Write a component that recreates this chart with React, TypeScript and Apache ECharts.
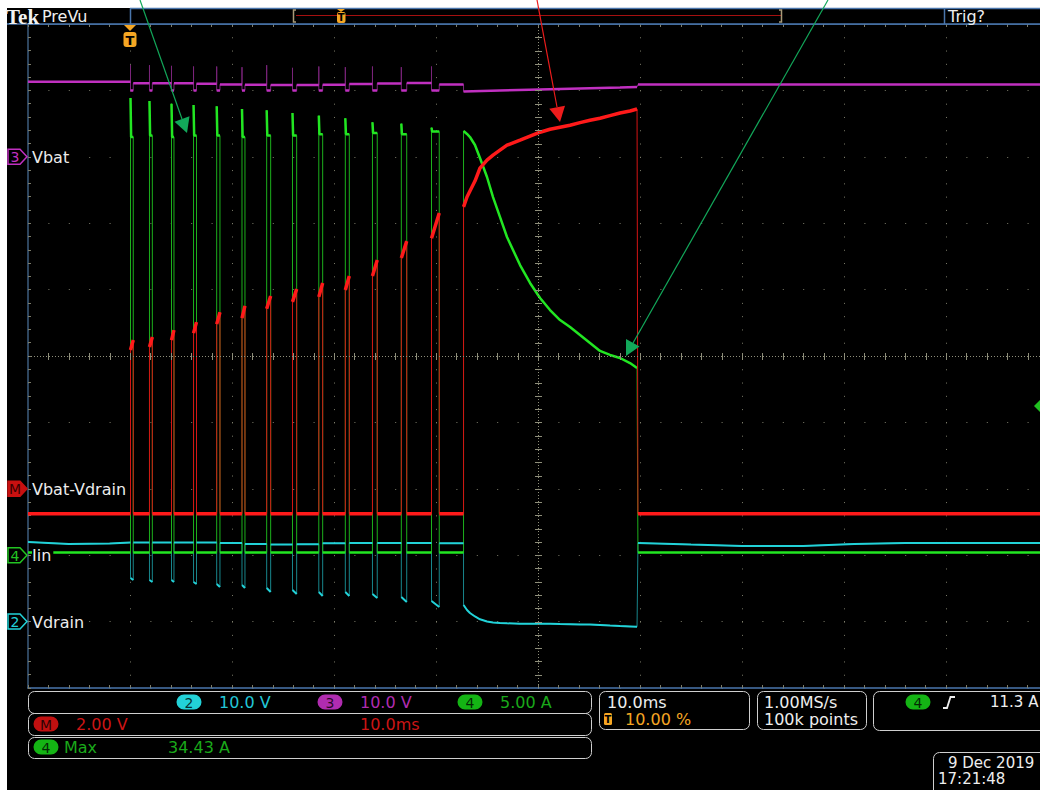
import React, { useEffect, useRef } from "react";
import * as echarts from "echarts";

// ===== Timebase (ms, relative to trigger) =====
const timeMinMs = -10;
const timeMaxMs = 90;
const timeDivMs = 10;

// ===== Channels: index 0 Vdrain (ch2), 1 Vbat (ch3), 2 Iin (ch4), 3 Math =====
const channelIds = ["2", "3", "4", "M"];
const channelNames = ["Vdrain", "Vbat", "Iin", "Vbat-Vdrain"];
const channelScale = [10, 10, 5, 2]; // units per division
const channelOffsetDiv = [-4, 3, -3, -2]; // ground marker position in divisions

// ===== Short pulses =====
const pulseStartMs = [0.05, 1.91, 4.07, 6.23, 8.5, 10.98, 13.4, 15.93, 18.51, 21.11, 23.77, 26.6, 29.56];
const pulseEndMs = [0.32, 2.19, 4.31, 6.52, 8.82, 11.27, 13.79, 16.34, 18.89, 21.5, 24.24, 27.13, 30.32];
const spikeSettleMs = 0.06;

// Iin (A)
const iinIdleA = 0.2;
const iinSpikeA = [34.43, 34.2, 34.0, 33.9, 33.8, 33.6, 33.5, 33.3, 33.1, 32.9, 32.6, 32.5, 32.2];
const iinPlateauA = [31.5, 31.6, 31.5, 31.6, 31.6, 31.5, 31.6, 31.6, 31.7, 31.7, 31.8, 31.7, 31.9];

// Vdrain (V)
const vdrainPreMs = [-10, -6, -2];
const vdrainPreV = [12.0, 11.7, 11.75];
const vdrainIdleV = [11.9, 11.9, 11.9, 11.9, 11.9, 11.85, 11.7, 11.6, 11.65, 11.8, 11.85, 11.85, 11.85, 11.8];
const vdrainLowStartV = [6.57, 6.26, 6.26, 5.96, 5.66, 5.51, 5.06, 4.76, 4.46, 4.46, 4.16, 3.7, 3.1];
const vdrainLowEndV = [6.26, 5.96, 5.96, 5.66, 5.21, 5.06, 4.46, 4.16, 3.86, 3.86, 3.55, 2.95, 2.2];
const vdrainPostMs = [49.8, 55, 60, 66, 71, 76, 90];
const vdrainPostV = [11.85, 11.6, 11.4, 11.4, 11.7, 11.85, 11.85];

// Vbat (V)
const vbatIdleV = [11.3, 11.07, 11.07, 11.07, 11.0, 10.9, 10.85, 10.8, 10.8, 10.85, 10.95, 11.05, 11.1, 10.88];
const vbatKickV = [13.8, 13.8, 13.7, 13.6, 13.6, 13.5, 13.8, 13.4, 13.6, 13.5, 13.6, 13.5, 13.6];
const vbatSagV = 10.0;
const vbatPostV = 10.89;

// Math Vbat-Vdrain (V)
const mathIdleV = -0.75;
const mathHighStartV = [4.18, 4.27, 4.48, 4.69, 4.96, 5.14, 5.42, 5.63, 5.78, 5.99, 6.41, 6.95, 7.55];
const mathHighEndV = [4.48, 4.57, 4.78, 5.02, 5.32, 5.51, 5.81, 6.02, 6.2, 6.41, 6.89, 7.46, 8.31];

// ===== Long pulse =====
const longPulseMs = [32.7, 33.04, 33.33, 33.82, 34.31, 35.0, 35.59, 36.27, 36.96, 38.24, 39.22, 40.2, 41.18, 42.16, 43.14, 44.12, 45.1, 46.08, 47.06, 48.04, 49.02, 49.71];
const longPulseEndMs = 49.8;
const longIinA = [31.94, 31.72, 31.49, 30.89, 29.91, 28.48, 26.97, 25.47, 23.96, 21.85, 20.5, 19.37, 18.46, 17.71, 17.18, 16.58, 15.98, 15.38, 15.08, 14.85, 14.47, 14.1];
const longMathV = [8.49, 8.79, 8.97, 9.27, 9.66, 9.9, 10.05, 10.2, 10.35, 10.5, 10.62, 10.74, 10.83, 10.89, 10.95, 11.03, 11.1, 11.16, 11.24, 11.32, 11.38, 11.44];
const longVdrainV = [2.5, 1.75, 1.3, 0.77, 0.35, 0.02, -0.14, -0.21, -0.26, -0.32, -0.32, -0.32, -0.32, -0.36, -0.39, -0.42, -0.45, -0.51, -0.59, -0.66, -0.72, -0.77];
const longVbatMs = [32.7, 36.27, 40.2, 44.12, 48.04, 49.71];
const longVbatV = [9.83, 9.98, 10.14, 10.29, 10.44, 10.51];

// ===== Readouts =====
const readoutScales = ["10.0 V", "10.0 V", "5.00 A"];
const mathReadout = ["2.00 V", "10.0ms"];
const measureReadout = ["Max", "34.43 A"];
const timebaseReadout = ["10.0ms", "10.00 %"];
const acqReadout = ["1.00MS/s", "100k points"];
const triggerReadout = "11.3 A";
const dateReadout = ["9 Dec 2019", "17:21:48"];

// ===== Layout =====
const CW = 1060, CH = 790; // container (wider than the viewport: graticule runs off the right edge)
const GL = 28, GT = 24, GW = 1020, GH = 664;
const DW = GW / 10, DH = GH / 10;
const CX = GL + DW * 5, CY = GT + DH * 5;
const FONT = '"DejaVu Sans", sans-serif';
const COL = {
  cyan: "#22d2d8", cyanDim: "#18868c", cyanTxt: "#22c6d6",
  mag: "#c030c0", magDim: "#7a247a", magTxt: "#b02cb0",
  green: "#22e622", greenDim: "#1cb01c", greenTxt: "#1aa81a",
  red: "#ff1a1a", redDim: "#d41414", redTxt: "#cc1515",
  grid: "#7c7c6a", orange: "#f5a623", border: "#4a76ac",
};

type P = [number, number];
const GAP: any = ["-", "-"];
function toSeries(segs: P[][]) {
  const full: P[] = [];
  const bright: any[] = [];
  segs.forEach((s, i) => {
    full.push(...s);
    if (i) bright.push(GAP);
    bright.push(...s);
  });
  return { full, bright };
}
const nextStart = (i: number) => (i + 1 < pulseStartMs.length ? pulseStartMs[i + 1] : longPulseMs[0]);

function iinSegs(): P[][] {
  const s: P[][] = [[[timeMinMs, iinIdleA], [pulseStartMs[0], iinIdleA]]];
  pulseStartMs.forEach((t, i) => {
    s.push([[t, iinSpikeA[i]], [t + spikeSettleMs, iinPlateauA[i]], [pulseEndMs[i], iinPlateauA[i]]]);
    s.push([[pulseEndMs[i], iinIdleA], [nextStart(i), iinIdleA]]);
  });
  s.push(longPulseMs.map((t, k) => [t, longIinA[k]] as P));
  s.push([[longPulseEndMs, iinIdleA], [timeMaxMs, iinIdleA]]);
  return s;
}
function vdrainSegs(): P[][] {
  const s: P[][] = [[...vdrainPreMs.map((t, k) => [t, vdrainPreV[k]] as P), [pulseStartMs[0], vdrainIdleV[0]]]];
  pulseStartMs.forEach((t, i) => {
    s.push([[t, vdrainLowStartV[i]], [pulseEndMs[i], vdrainLowEndV[i]]]);
    s.push([[pulseEndMs[i], vdrainIdleV[i + 1]], [nextStart(i), vdrainIdleV[i + 1]]]);
  });
  s.push(longPulseMs.map((t, k) => [t, longVdrainV[k]] as P));
  s.push(vdrainPostMs.map((t, k) => [t, vdrainPostV[k]] as P));
  return s;
}
function vbatSegs(): P[][] {
  const s: P[][] = [[[timeMinMs, vbatIdleV[0]], [pulseStartMs[0], vbatIdleV[0]]]];
  pulseStartMs.forEach((t, i) => {
    s.push([[t, vbatKickV[i]]]);
    s.push([[t, vbatSagV], [pulseEndMs[i], vbatSagV]]);
    s.push([[pulseEndMs[i], vbatIdleV[i + 1]], [nextStart(i), vbatIdleV[i + 1]]]);
  });
  s.push(longVbatMs.map((t, k) => [t, longVbatV[k]] as P));
  s.push([[longPulseEndMs, vbatPostV], [timeMaxMs, vbatPostV]]);
  return s;
}
function mathSegs(): P[][] {
  const s: P[][] = [[[timeMinMs, mathIdleV], [pulseStartMs[0], mathIdleV]]];
  pulseStartMs.forEach((t, i) => {
    s.push([[t, mathHighStartV[i]], [pulseEndMs[i], mathHighEndV[i]]]);
    s.push([[pulseEndMs[i], mathIdleV], [nextStart(i), mathIdleV]]);
  });
  s.push(longPulseMs.map((t, k) => [t, longMathV[k]] as P));
  s.push([[longPulseEndMs, mathIdleV], [timeMaxMs, mathIdleV]]);
  return s;
}

function lineSeries(name: string, yAxisIndex: number, data: any[], color: string, width: number, z: number) {
  return {
    name, type: "line", xAxisIndex: 0, yAxisIndex, data, showSymbol: false, symbol: "none",
    lineStyle: { color, width }, z, silent: true, connectNulls: false, clip: true, animation: false,
  };
}

function txt(text: string, x: number, y: number, fill: string, size = 16, extra: any = {}) {
  return { type: "text", z: 100, x, y, style: { text, fill, fontSize: size, fontFamily: FONT, align: "left", verticalAlign: "middle", ...extra } };
}
function badge(label: string, cx: number, cy: number, fill: string) {
  return [
    { type: "rect", z: 100, shape: { x: cx - 12.5, y: cy - 7.5, width: 25, height: 15, r: 7.5 }, style: { fill } },
    { type: "text", z: 101, x: cx, y: cy + 0.5, style: { text: label, fill: "rgba(0,0,0,0.8)", fontSize: 14, fontFamily: FONT, align: "center", verticalAlign: "middle" } },
  ];
}
function chMarker(label: string, cy: number, color: string, filled: boolean) {
  return [
    { type: "polygon", z: 100, shape: { points: [[8, cy - 7.5], [20, cy - 7.5], [27, cy], [20, cy + 7.5], [8, cy + 7.5]] }, style: { fill: filled ? color : "#000", stroke: color, lineWidth: 1.5 } },
    { type: "text", z: 101, x: 15, y: cy + 0.5, style: { text: label, fill: filled ? "#3a0000" : color, fontSize: 14, fontFamily: FONT, align: "center", verticalAlign: "middle" } },
  ];
}
function box(x: number, y: number, w: number, h: number) {
  return { type: "rect", z: 99, shape: { x: x + 0.5, y: y + 0.5, width: w, height: h, r: 6 }, style: { fill: "none", stroke: "#cfcfcf", lineWidth: 1 } };
}
function arrow(x0: number, y0: number, bx: number, by: number, tip: P, b1: P, b2: P, color: string) {
  return [
    { type: "line", z: 120, shape: { x1: x0, y1: y0, x2: bx, y2: by }, style: { stroke: color, lineWidth: 1.2 } },
    { type: "polygon", z: 120, shape: { points: [tip, b1, b2] }, style: { fill: color } },
  ];
}

function buildOption() {
  const iin = toSeries(iinSegs());
  const vd = toSeries(vdrainSegs());
  const vb = toSeries(vbatSegs());
  const m = toSeries(mathSegs());

  const yAxes = channelScale.map((sc, i) => ({
    type: "value", min: (-5 - channelOffsetDiv[i]) * sc, max: (5 - channelOffsetDiv[i]) * sc, interval: sc,
    show: i === 0, position: "left",
    axisLine: { show: true, onZero: false, lineStyle: { color: "#3d5c7e", width: 1.5 } },
    axisTick: { show: true, inside: true, length: 3, lineStyle: { color: COL.grid } },
    minorTick: { show: true, splitNumber: 5, length: 3, lineStyle: { color: COL.grid } },
    axisLabel: { show: false },
    splitLine: { show: i === 0, lineStyle: { color: COL.grid, width: 1, type: [1, DW / 5 - 1] } },
  }));
  const xAxisBase = {
    type: "value", min: timeMinMs, max: timeMaxMs, interval: timeDivMs,
    axisLine: { show: true, onZero: false, lineStyle: { color: COL.border, width: 1.5 } },
    axisTick: { show: true, inside: true, length: 3, lineStyle: { color: COL.grid } },
    minorTick: { show: true, splitNumber: 5, length: 3, lineStyle: { color: COL.grid } },
    axisLabel: { show: false },
  };

  const g: any[] = [];
  // white page margins
  g.push({ type: "rect", z: 90, shape: { x: 0, y: 0, width: CW, height: 8 }, style: { fill: "#fff" } });
  g.push({ type: "rect", z: 90, shape: { x: 0, y: 0, width: 7, height: CH }, style: { fill: "#fff" } });
  // center crosshair
  g.push({ type: "line", z: 5, shape: { x1: CX + 0.5, y1: GT, x2: CX + 0.5, y2: GT + GH }, style: { stroke: "#8e8e7a", lineWidth: 1, lineDash: [1, 2] } });
  g.push({ type: "line", z: 5, shape: { x1: GL, y1: CY + 0.5, x2: GL + GW, y2: CY + 0.5 }, style: { stroke: "#8e8e7a", lineWidth: 1, lineDash: [1, 2] } });
  for (let k = 1; k < 50; k++) {
    const y = Math.round(GT + (k * DH) / 5) + 0.5;
    g.push({ type: "line", z: 5, shape: { x1: CX - 3, y1: y, x2: CX + 4, y2: y }, style: { stroke: "#8e8e7a", lineWidth: 1 } });
    const x = Math.round(GL + (k * DW) / 5) + 0.5;
    g.push({ type: "line", z: 5, shape: { x1: x, y1: CY - 3, x2: x, y2: CY + 4 }, style: { stroke: "#8e8e7a", lineWidth: 1 } });
  }
  // top bar
  g.push({ type: "rect", z: 95, shape: { x: 7, y: 8, width: CW - 7, height: 16 }, style: { fill: "#000" } });
  g.push({ type: "line", z: 96, shape: { x1: 130, y1: 8.5, x2: CW, y2: 8.5 }, style: { stroke: COL.border, lineWidth: 1.5 } });
  g.push({ type: "line", z: 96, shape: { x1: 130.5, y1: 8, x2: 130.5, y2: 24 }, style: { stroke: COL.border, lineWidth: 1.5 } });
  g.push({ type: "line", z: 96, shape: { x1: 944.5, y1: 8, x2: 944.5, y2: 24 }, style: { stroke: COL.border, lineWidth: 1.5 } });
  g.push({ type: "line", z: 96, shape: { x1: 7, y1: 24, x2: CW, y2: 24 }, style: { stroke: COL.border, lineWidth: 1.5 } });
  g.push({ type: "line", z: 96, shape: { x1: 296, y1: 15.5, x2: 781, y2: 15.5 }, style: { stroke: "#a51010", lineWidth: 1 } });
  g.push({ type: "polyline", z: 96, shape: { points: [[296, 10], [293.5, 10], [293.5, 22], [296, 22]] }, style: { stroke: "#a89a78", lineWidth: 1.5, fill: "none" } });
  g.push({ type: "polyline", z: 96, shape: { points: [[779, 10], [781.5, 10], [781.5, 22], [779, 22]] }, style: { stroke: "#a89a78", lineWidth: 1.5, fill: "none" } });
  g.push({ type: "polygon", z: 96, shape: { points: [[337, 9], [345, 9], [341, 12]] }, style: { fill: COL.orange } });
  g.push({ type: "rect", z: 96, shape: { x: 337, y: 12, width: 8.5, height: 11, r: 2 }, style: { fill: COL.orange } });
  g.push({ type: "text", z: 97, x: 341.2, y: 17.5, style: { text: "T", fill: "#000", fontSize: 10, fontWeight: "bold", fontFamily: FONT, align: "center", verticalAlign: "middle" } });
  g.push({ type: "text", z: 97, x: 6, y: 16.5, style: { text: "Tek", fill: "#f2f2f2", fontSize: 21, fontWeight: "bold", fontFamily: '"Liberation Serif", serif', align: "left", verticalAlign: "middle" } });
  g.push({ ...txt("PreVu", 42, 16, "#eeeeee"), z: 97 });
  g.push({ ...txt("Trig?", 948, 16, "#eeeeee"), z: 97 });
  // trigger position marker
  g.push({ type: "polygon", z: 100, shape: { points: [[124, 25], [136, 25], [130, 31]] }, style: { fill: COL.orange } });
  g.push({ type: "rect", z: 100, shape: { x: 123.5, y: 32, width: 13, height: 15, r: 3 }, style: { fill: COL.orange } });
  g.push({ type: "text", z: 101, x: 130, y: 40, style: { text: "T", fill: "#000", fontSize: 13, fontWeight: "bold", fontFamily: FONT, align: "center", verticalAlign: "middle" } });
  // trigger level marker
  g.push({ type: "polygon", z: 100, shape: { points: [[1034, 406], [1041, 399], [1041, 413]] }, style: { fill: "#20c020" } });
  // channel markers & labels
  const chColors = [COL.cyan, COL.mag, "#22c422", "#c81010"];
  channelIds.forEach((id, i) => {
    const cy = CY - channelOffsetDiv[i] * DH;
    g.push(...chMarker(id, cy, chColors[i], id === "M"));
    g.push(txt(channelNames[i], 32, cy + 0.5, "#ececec", 16, { backgroundColor: "#000", padding: [0, 2, 0, 0] }));
  });
  // bottom readouts
  g.push(box(28, 691, 563, 22), box(28, 713, 563, 22), box(28, 737, 563, 21));
  g.push(box(599, 691, 150, 38), box(757, 691, 109, 38), box(873, 691, 180, 39), box(933, 752, 120, 45));
  g.push(...badge("2", 189, 702, COL.cyan), txt(readoutScales[0], 219, 702, COL.cyanTxt));
  g.push(...badge("3", 330, 702, "#b02cb0"), txt(readoutScales[1], 360, 702, COL.magTxt));
  g.push(...badge("4", 470, 702, "#14b414"), txt(readoutScales[2], 500, 702, COL.greenTxt));
  g.push(...badge("M", 46, 724, "#c01010"), txt(mathReadout[0], 76, 724, COL.redTxt), txt(mathReadout[1], 360, 724, COL.redTxt));
  g.push(...badge("4", 46, 747, "#14b414"), txt(measureReadout[0], 64, 747, COL.greenTxt), txt(measureReadout[1], 168, 747, COL.greenTxt));
  g.push(txt(timebaseReadout[0], 607, 702, "#eeeeee"));
  g.push({ type: "rect", z: 100, shape: { x: 604, y: 713, width: 8, height: 12, r: 1.5 }, style: { fill: COL.orange } });
  g.push({ type: "text", z: 101, x: 608, y: 719.5, style: { text: "T", fill: "#000", fontSize: 10, fontWeight: "bold", fontFamily: FONT, align: "center", verticalAlign: "middle" } });
  g.push(txt(timebaseReadout[1], 625, 719, COL.orange));
  g.push(txt(acqReadout[0], 764, 702, "#eeeeee"), txt(acqReadout[1], 764, 719, "#eeeeee"));
  g.push(...badge("4", 918, 702, "#14b414"));
  g.push({ type: "polyline", z: 100, shape: { points: [[943, 708], [947, 708], [950.5, 697], [955, 697]] }, style: { stroke: "#eeeeee", lineWidth: 1.8, fill: "none" } });
  g.push(txt(triggerReadout, 990, 702, "#eeeeee", 15));
  g.push(txt(dateReadout[0], 948, 763, "#eeeeee", 15), txt(dateReadout[1], 938, 779, "#eeeeee", 15));
  // annotation arrows
  g.push(...arrow(140, 0, 182, 119, [187, 133], [189.5, 116.3], [174.5, 121.7], "#12a85a"));
  g.push(...arrow(537, 0, 557, 107, [560, 122], [565, 105.8], [549.3, 108.8], "#ee1c1c"));
  g.push(...arrow(828, 0, 633, 343, [626, 356], [626, 339], [639.5, 346.5], "#12a85a"));

  return {
    animation: false,
    backgroundColor: "#000",
    grid: { left: GL, top: GT, width: GW, height: GH, containLabel: false },
    xAxis: [
      { ...xAxisBase, position: "top", splitLine: { show: true, lineStyle: { color: COL.grid, width: 1, type: [1, DH / 5 - 1] } } },
      { ...xAxisBase, position: "bottom", splitLine: { show: false } },
    ],
    yAxis: yAxes,
    series: [
      lineSeries("Vbat", 1, vb.full, COL.magDim, 1, 2),
      lineSeries("Vbat", 1, vb.bright, COL.mag, 2.5, 3),
      lineSeries("Vdrain", 0, vd.full, COL.cyanDim, 1, 2),
      lineSeries("Vdrain", 0, vd.bright, COL.cyan, 2, 3),
      lineSeries("Iin", 2, iin.full, COL.greenDim, 1, 2),
      lineSeries("Iin", 2, iin.bright, COL.green, 2.5, 3),
      lineSeries("Vbat-Vdrain", 3, m.full, COL.redDim, 1, 4),
      lineSeries("Vbat-Vdrain", 3, m.bright, COL.red, 3.5, 4),
    ],
    graphic: { elements: g },
  };
}

export default function App() {
  const ref = useRef<HTMLDivElement>(null);
  useEffect(() => {
    if (!ref.current) return;
    document.body.style.overflow = "hidden";
    const chart = echarts.init(ref.current, undefined, { renderer: "svg" });
    chart.setOption(buildOption() as any);
    return () => chart.dispose();
  }, []);
  return <div ref={ref} style={{ position: "fixed", left: 0, top: 0, width: CW, height: CH }} />;
}
